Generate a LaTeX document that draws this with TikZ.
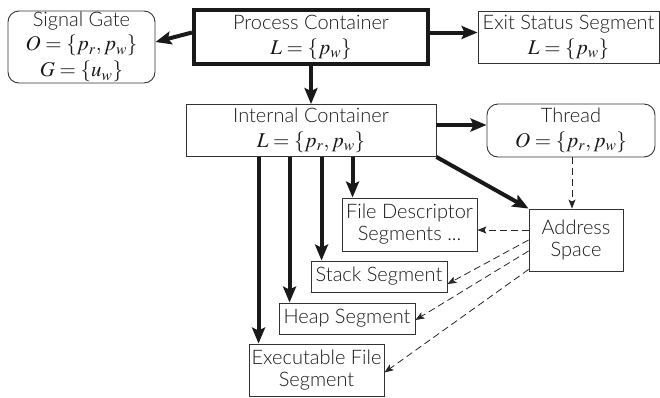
\documentclass[tikz,border=0pt]{standalone}
\usepackage{mathptmx}
\usepackage[no-math]{fontspec}
\setmainfont{Lato Light}
\usetikzlibrary{arrows.meta}

% formulas are set a little larger than the labels around them
\newcommand{\mth}[1]{{\fontsize{21pt}{22pt}\selectfont$#1$}}

\tikzset{
  box/.style={draw=black!80, line width=0.9pt, inner sep=0pt, align=center,
    text=black!90, font=\fontsize{20pt}{22pt}\selectfont},
  rbox/.style={box, rounded corners=11pt},
  heavybox/.style={box, draw=black!90, line width=4pt},
  bigarrow/.style={line width=4pt, black!90,
    -{Stealth[length=16pt, width=13pt, inset=3pt]}},
  lookup/.style={line width=0.8pt, black!85, dash pattern=on 7pt off 4pt,
    -{Stealth[length=9pt, width=7pt, inset=2pt]}},
}

\begin{document}
\begin{tikzpicture}[x=1pt, y=-1pt]
  \useasboundingbox (0,0) rectangle (660,397);

  % containers and gates
  \node[rbox, minimum width=147pt, minimum height=72pt] (sg) at (81.5,47)
    {Signal Gate\\[2.5pt] \mth{O=\{p_r,p_w\}}\\[4pt] \mth{G=\{u_w\}}};
  \node[heavybox, minimum width=234pt, minimum height=54pt] (pc) at (311,37)
    {Process Container\\[3pt] \mth{L=\{p_w\}}};
  \node[box, minimum width=181pt, minimum height=52pt] (es) at (568.5,37)
    {Exit Status Segment\\[3pt] \mth{L=\{p_w\}}};
  \node[box, minimum width=250pt, minimum height=52pt] (ic) at (311,130.5)
    {Internal Container\\[3pt] \mth{L=\{p_r,p_w\}}};
  \node[rbox, minimum width=168pt, minimum height=53pt] (th) at (571,130.5)
    {Thread\\[3pt] \mth{O=\{p_r,p_w\}}};

  % address space and its segments
  \node[box, minimum width=94pt, minimum height=62pt] (as) at (576,240)
    {Address\\ Space};
  \node[box, minimum width=135pt, minimum height=53pt] (fd) at (409.5,224.5)
    {File Descriptor\\ Segments ...};
  \node[box, minimum width=136pt, minimum height=31pt] (st) at (379,276.5)
    {Stack Segment};
  \node[box, minimum width=136pt, minimum height=31pt] (hp) at (347,318.5)
    {Heap Segment};
  \node[box, minimum width=135pt, minimum height=52pt] (ex) at (316.5,370)
    {Executable File\\ Segment};

  % ownership links
  \draw[bigarrow] ([yshift=4.5pt]pc.west) -- ([yshift=5pt]sg.east);
  \draw[bigarrow] ([yshift=4.5pt]pc.east) -- ([yshift=4.5pt]pc.east -| es.west);
  \draw[bigarrow] (pc.south) -- (ic.north);
  \draw[bigarrow] ([yshift=5.5pt]ic.east) -- ([yshift=5.5pt]ic.east -| th.west);
  \draw[bigarrow] (ic.south east) -- (as.north west);
  \draw[bigarrow] ([xshift=10pt]ex.north west |- ic.south) -- ([xshift=10pt]ex.north west);
  \draw[bigarrow] ([xshift=11pt]hp.north west |- ic.south) -- ([xshift=11pt]hp.north west);
  \draw[bigarrow] ([xshift=11pt]st.north west |- ic.south) -- ([xshift=11pt]st.north west);
  \draw[bigarrow] ([xshift=11pt]fd.north west |- ic.south) -- ([xshift=11pt]fd.north west);

  % address space lookups
  \draw[lookup] ([xshift=-4pt]as.north |- th.south) -- ([xshift=-4pt]as.north);
  \draw[lookup] ([yshift=10pt]as.west) -- ([yshift=10pt]as.west -| fd.east);
  \draw[lookup] (as.west) -- ([yshift=-7.5pt]st.east);
  \draw[lookup] ([yshift=-11pt]as.west) -- ([yshift=-1.5pt]hp.east);
  \draw[lookup] ([yshift=2pt]as.south west) -- ([yshift=-2.5pt]ex.east);
\end{tikzpicture}
\end{document}
